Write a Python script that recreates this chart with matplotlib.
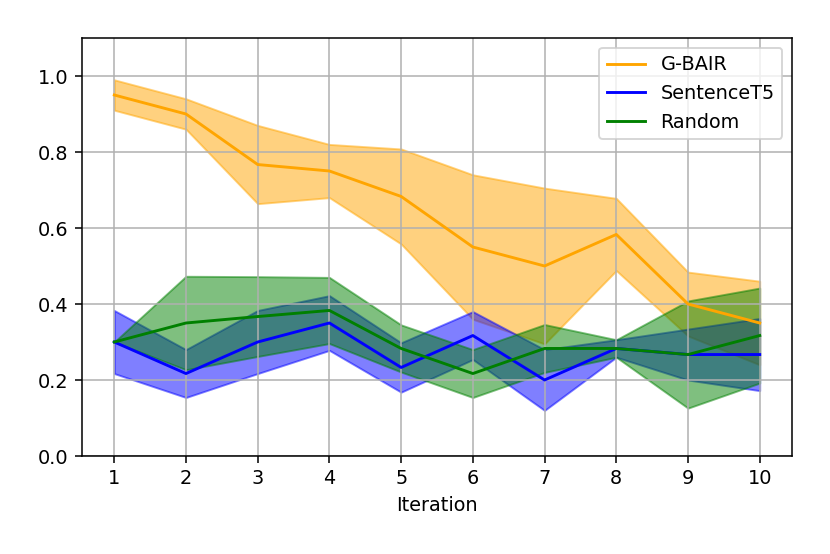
import matplotlib
matplotlib.use('Agg')
import matplotlib.pyplot as plt
import numpy as np

iterations = np.arange(1, 11)

gbair_mean = [0.95, 0.90, 0.767, 0.75, 0.683, 0.55, 0.50, 0.583, 0.40, 0.35]
gbair_std = [0.04, 0.04, 0.103, 0.07, 0.125, 0.19, 0.205, 0.095, 0.084, 0.11]

st5_mean = [0.30, 0.217, 0.30, 0.35, 0.233, 0.317, 0.20, 0.283, 0.267, 0.267]
st5_std = [0.083, 0.063, 0.083, 0.072, 0.065, 0.063, 0.08, 0.023, 0.067, 0.095]

rand_mean = [0.30, 0.35, 0.367, 0.383, 0.283, 0.217, 0.283, 0.283, 0.267, 0.317]
rand_std = [0.0, 0.123, 0.105, 0.087, 0.062, 0.063, 0.063, 0.023, 0.141, 0.125]

series = [
    ('G-BAIR', gbair_mean, gbair_std, 'orange'),
    ('SentenceT5', st5_mean, st5_std, 'blue'),
    ('Random', rand_mean, rand_std, 'green'),
]

dpi = 138.33
fig = plt.figure(figsize=(830 / dpi, 554 / dpi), dpi=dpi)
ax = fig.add_axes([82 / 830, 1 - 456 / 554, (792 - 82) / 830, (456 - 38) / 554])

for name, mean, std, color in series:
    m = np.array(mean)
    s = np.array(std)
    ax.plot(iterations, m, color=color, label=name)
    ax.fill_between(iterations, m - s, m + s, color=color, alpha=0.5)

ax.set_xticks(iterations)
ax.set_ylim(0, 1.1)
ax.set_xlabel('Iteration')
ax.grid(True)
ax.legend(loc='upper right')

fig.savefig('out.png', dpi=dpi)
